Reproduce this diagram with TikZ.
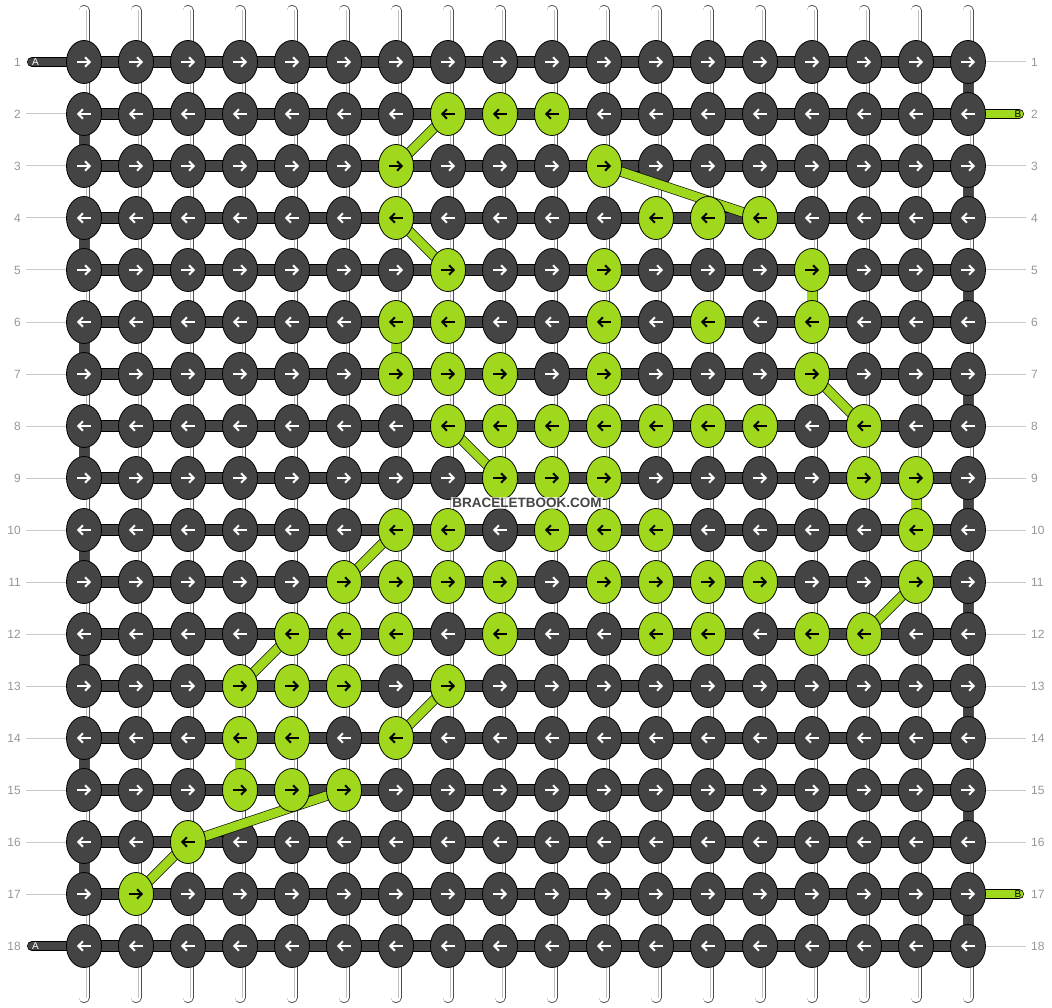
\documentclass[tikz,border=0pt]{standalone}
\usepackage{fontspec}
\setmainfont{Liberation Sans}
\usetikzlibrary{shapes.geometric,arrows.meta}
\definecolor{knotdark}{RGB}{68,68,68}
\definecolor{knotgreen}{RGB}{160,216,30}
\definecolor{rowgray}{RGB}{150,150,150}
\definecolor{linegray}{RGB}{200,200,200}
\pgfdeclarelayer{back}
\pgfdeclarelayer{mid}
\pgfdeclarelayer{front}
\pgfsetlayers{back,main,mid,front}

\begin{document}
\begin{tikzpicture}[x=1pt,y=-1pt,
  knot/.style={ellipse,draw=black,line width=0.8,minimum width=35,minimum height=43,inner sep=0},
  darkknot/.style={knot,fill=knotdark},
  greenknot/.style={knot,fill=knotgreen},
  darkarrow/.style={white,line width=2,-{Straight Barb[length=4.5pt,width=9.5pt]}},
  greenarrow/.style={darkarrow,black},
  tube/.style={draw=black!70,line width=0.8,double=white,double distance=9.4,line cap=round},
  tubeshine/.style={draw=black!25,line width=0.9},
  hbar/.style={draw=black,line width=0.7,double=knotdark,double distance=10.6},
  vbar/.style={draw=black,line width=0.7,double=knotdark,double distance=9.4},
  greenvbar/.style={vbar,double=knotgreen},
  greenband/.style={draw=black,line width=0.6,double=knotgreen,double distance=8.8},
  darktail/.style={hbar,double distance=8.6,line cap=round},
  greentail/.style={darktail,double=knotgreen},
  labelline/.style={draw=linegray,line width=1},
  rownum/.style={font=\fontsize{12}{14}\selectfont,text=rowgray,inner sep=0},
  tailtext/.style={font=\fontsize{10}{12}\selectfont,inner sep=0},
  watermark/.style={font=\fontsize{13.5}{15}\selectfont\bfseries,text=knotdark,fill=white,fill opacity=0.7,text opacity=1,inner sep=1.5}]
\useasboundingbox (0,0) rectangle (1052,1008);

% green knots
\foreach \r/\cols in {2/{8,9,10},3/{7,11},4/{7,12,13,14},5/{8,11,15},6/{7,8,11,13,15},
  7/{7,8,9,11,15},8/{8,9,10,11,12,13,14,16},9/{9,10,11,16,17},10/{7,8,10,11,12,17},
  11/{6,7,8,9,11,12,13,14,17},12/{5,6,7,9,12,13,15,16},13/{4,5,6,8},14/{4,5,7},
  15/{4,5,6},16/{3},17/{2}}
  {\foreach \c in \cols {\expandafter\gdef\csname gk-\r-\c\endcsname{}}}

\foreach \r in {1,...,18} {
  \pgfmathsetmacro\dir{ifthenelse(mod(\r,2)==1,1,-1)}
  \foreach \c in {1,...,18} {
    \ifcsname gk-\r-\c\endcsname\else
      \node[darkknot] (k\r-\c) at ({84+52*(\c-1)},{62+52*(\r-1)}) {};
      \draw[darkarrow] ([xshift={-7*\dir}]k\r-\c.center) -- ([xshift={7*\dir}]k\r-\c.center);
    \fi
  }
}
\begin{pgfonlayer}{front}
\foreach \r in {1,...,18} {
  \pgfmathsetmacro\dir{ifthenelse(mod(\r,2)==1,1,-1)}
  \foreach \c in {1,...,18} {
    \ifcsname gk-\r-\c\endcsname
      \node[greenknot] (k\r-\c) at ({84+52*(\c-1)},{62+52*(\r-1)}) {};
      \draw[greenarrow] ([xshift={-7*\dir}]k\r-\c.center) -- ([xshift={7*\dir}]k\r-\c.center);
    \fi
  }
}
\node[watermark] (wm) at (527,503) {BRACELETBOOK.COM};
\end{pgfonlayer}

% row numbers
\foreach \r in {1,...,18} {
  \node[rownum,anchor=east] (lnum\r) at (21,{62+52*(\r-1)}) {\r};
  \node[rownum,anchor=west] (rnum\r) at (1031,{62+52*(\r-1)}) {\r};
}

\begin{pgfonlayer}{mid}
\foreach \a/\b in {2-8/3-7,3-11/4-14,4-7/5-8,7-15/8-16,8-8/9-9,10-7/11-6,
  11-17/12-16,12-5/13-4,13-8/14-7,15-6/16-3,16-3/17-2}
  \draw[greenband] (k\a.center) -- (k\b.center);
\end{pgfonlayer}

\begin{pgfonlayer}{back}
\foreach \c in {1,...,18} {
  \coordinate (top\c) at ({84+52*(\c-1)},10.5);
  \coordinate (bot\c) at ({84+52*(\c-1)},997.5);
  \draw[tube] (top\c) -- (bot\c);
  \draw[tubeshine] ([xshift=2.7]top\c) -- ([xshift=2.7]bot\c);
}
\foreach \r in {1,...,18}
  \draw[hbar] (k\r-1.center) -- (k\r-18.center);
\foreach \r in {1,3,...,17} {
  \pgfmathtruncatemacro\n{\r+1}
  \draw[vbar] (k\r-18.center) -- (k\n-18.center);
}
\foreach \r in {2,4,...,16} {
  \pgfmathtruncatemacro\n{\r+1}
  \draw[vbar] (k\r-1.center) -- (k\n-1.center);
}
\foreach \a/\b in {5-15/6-15,6-7/7-7,9-17/10-17,14-4/15-4}
  \draw[greenvbar] (k\a.center) -- (k\b.center);

% tails
\coordinate (tailA1) at (32,62);
\coordinate (tailA18) at (32,946);
\coordinate (tailB2) at (1019,114);
\coordinate (tailB17) at (1019,894);
\draw[darktail] (tailA1) -- (k1-1.center);
\draw[darktail] (tailA18) -- (k18-1.center);
\draw[greentail] (k2-18.center) -- (tailB2);
\draw[greentail] (k17-18.center) -- (tailB17);
\node[tailtext,text=white] (labA1) at (35.5,62) {A};
\node[tailtext,text=white] (labA18) at (35.5,946) {A};
\node[tailtext] (labB2) at (1018,114) {B};
\node[tailtext] (labB17) at (1018,894) {B};

\foreach \r in {2,...,17}
  \draw[labelline,shorten <=5pt] (lnum\r.east) -- (k\r-1.west);
\foreach \r in {1,3,4,...,16,18}
  \draw[labelline,shorten >=5pt] (k\r-18.east) -- (rnum\r.west);
\end{pgfonlayer}
\end{tikzpicture}
\end{document}
